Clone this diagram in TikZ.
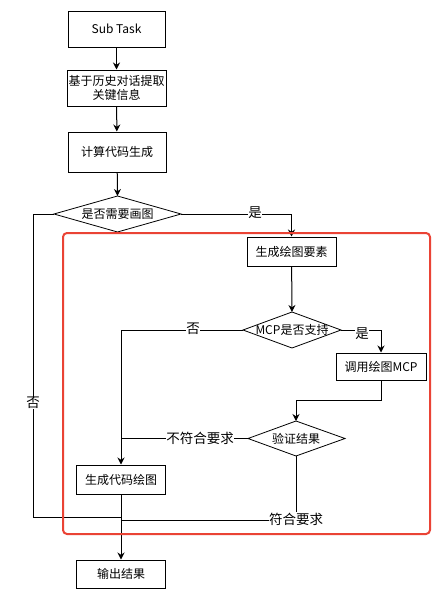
\documentclass[tikz,border=0pt]{standalone}
\usepackage{fontspec}
\setmainfont{Noto Sans CJK SC}
\usetikzlibrary{arrows.meta,shapes.geometric}
\definecolor{redframe}{RGB}{234,67,53}
\begin{document}
\begin{tikzpicture}[x=1pt,y=-1pt,
  font=\fontsize{12}{14.5}\selectfont,
  box/.style={draw=black,line width=1pt,minimum width=#1,inner sep=0pt,align=center,fill=white},
  diashape/.style={draw=black,line width=0.8pt,fill=white},
  conn/.style={line width=1pt,-{Stealth[length=7pt,width=7pt]}},
  plain/.style={line width=1pt},
  lbl/.style={fill=white,inner sep=0.5pt,font=\fontsize{13.5}{15}\selectfont}]
\useasboundingbox (0,0) rectangle (441,605);
% nodes
\node[box=97pt,minimum height=36pt] (sub) at (116.5,29) {Sub Task};
\node[box=99pt,minimum height=36pt] (hist) at (116.5,88) {基于历史对话提取\\关键信息};
\node[box=98pt,minimum height=40pt] (calc) at (117,152) {计算代码生成};
\coordinate (d1l) at (54,214);
\coordinate (d1t) at (117.5,196);
\coordinate (d1r) at (181,214);
\coordinate (d1b) at (117.5,232);
\path[diashape] (d1l) -- (d1t) -- (d1r) -- (d1b) -- cycle;
\node (d1) at (117.5,214) {是否需要画图};
\node[box=89pt,minimum height=29pt] (elem) at (291.5,251.5) {生成绘图要素};
\coordinate (d2t) at (292,312);
\coordinate (d2l) at (243,330);
\coordinate (d2r) at (341,330);
\coordinate (d2b) at (292,348);
\path[diashape] (d2l) -- (d2t) -- (d2r) -- (d2b) -- cycle;
\node (d2) at (292,330) {MCP是否支持};
\node[box=90pt,minimum height=27pt] (mcp) at (381,366.5) {调用绘图MCP};
\coordinate (d3t) at (296,421);
\coordinate (d3l) at (248,438.5);
\coordinate (d3r) at (345,438.5);
\coordinate (d3b) at (296,456);
\path[diashape] (d3l) -- (d3t) -- (d3r) -- (d3b) -- cycle;
\node (d3) at (296,438.5) {验证结果};
\node[box=89pt,minimum height=29pt] (code) at (121,479.5) {生成代码绘图};
\node[box=89pt,minimum height=28pt] (out) at (121,574) {输出结果};
\coordinate (j1) at (33,214);
\coordinate (j2) at (33,517);
\coordinate (j3) at (121,517);
\coordinate (m1) at (381,400);
\coordinate (v1) at (121,438.5);
\coordinate (v2) at (296,520);
\coordinate (v3) at (121,520);
% connectors
\draw[conn] (sub) -- (hist);
\draw[conn] (hist) -- (calc);
\draw[conn] (calc) -- (d1t);
\draw[conn] (d1r) -| (elem.north);
\node[lbl] at (255,213) {是};
\draw[plain] (d1l) -- (j1) -- (j2) -- (j3);
\node[lbl] at (33,403) {否};
\draw[conn] (elem) -- (d2t);
\draw[conn] (d2l) -| (code.north);
\node[lbl] at (193,329) {否};
\draw[conn] (d2r) -| (mcp.north);
\node[lbl] at (362,334) {是};
\draw[conn] (mcp.south) -- (m1) -| (d3t);
\draw[plain] (d3l) -- (v1);
\node[lbl] at (200,438) {不符合要求};
\draw[plain] (d3b) -- (v2) -- (v3);
\node[lbl] at (296,519) {符合要求};
\draw[conn] (code) -- (out);
% red frame
\draw[redframe,line width=2pt,rounded corners=4pt] (63,233) rectangle (430,534);
\end{tikzpicture}
\end{document}
